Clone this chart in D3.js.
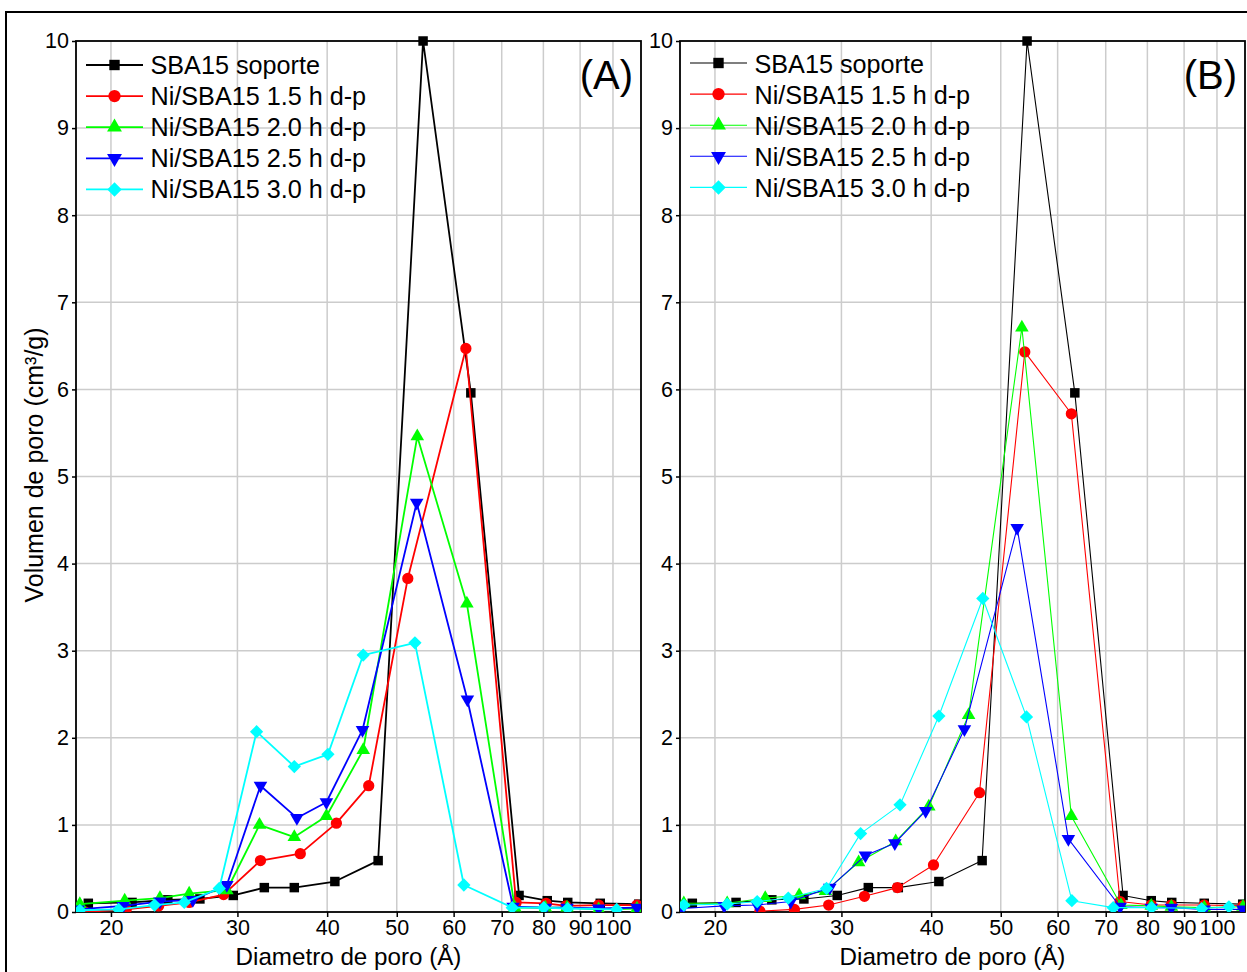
<!DOCTYPE html>
<html>
<head>
<meta charset="utf-8">
<script src="https://cdn.jsdelivr.net/npm/d3@7"></script>
<style>
  html, body { margin: 0; padding: 0; background: #fff; }
  svg { display: block; font-family: "Liberation Sans", Arial, sans-serif; }
</style>
</head>
<body>
<svg id="chart" width="1247" height="972"></svg>
<script>
// ---------------- DATA ----------------
const seriesNames = ["SBA15 soporte", "Ni/SBA15 1.5 h d-p", "Ni/SBA15 2.0 h d-p", "Ni/SBA15 2.5 h d-p", "Ni/SBA15 3.0 h d-p"];
const seriesColors = ["#000000", "#ff0000", "#00ff00", "#0000ff", "#00ffff"];
const xTickValues = [20, 30, 40, 50, 60, 70, 80, 90, 100];
const yTickValues = [0, 1, 2, 3, 4, 5, 6, 7, 8, 9, 10];
const xDomain = [17.88, 109.4];
const yDomain = [0, 10];

// SBA15 soporte (same in both panels)
const xSoporte = [18.6, 21.4, 24.0, 26.6, 29.6, 32.7, 36.0, 41.0, 47.1, 54.4, 63.4, 74.0, 81.0, 86.5, 96.0, 108.6];
const ySoporte = [0.10, 0.11, 0.14, 0.15, 0.19, 0.28, 0.28, 0.35, 0.59, 10.0, 5.96, 0.19, 0.13, 0.11, 0.10, 0.09];

// Panel A
const xA15 = [18.4, 21.0, 23.3, 25.7, 28.7, 32.3, 36.7, 41.2, 45.7, 51.8, 62.4, 73.3, 80.7, 86.0, 95.5, 108.0];
const yA15 = [0.00, 0.03, 0.07, 0.11, 0.20, 0.59, 0.67, 1.02, 1.45, 3.83, 6.47, 0.11, 0.10, 0.07, 0.08, 0.08];
const xA20 = [18.1, 20.9, 23.4, 25.7, 29.0, 32.2, 36.0, 39.9, 44.9, 53.4, 62.6, 73.0, 80.5, 86.3, 95.5, 108.0];
const yA20 = [0.09, 0.13, 0.16, 0.21, 0.25, 1.00, 0.86, 1.10, 1.86, 5.46, 3.54, 0.05, 0.05, 0.05, 0.03, 0.04];
const xA25 = [18.0, 20.8, 23.4, 26.0, 29.0, 32.3, 36.3, 39.9, 44.8, 53.3, 62.7, 72.6, 80.5, 86.3, 95.5, 108.0];
const yA25 = [0.03, 0.07, 0.12, 0.14, 0.31, 1.45, 1.08, 1.26, 2.09, 4.70, 2.44, 0.06, 0.05, 0.05, 0.04, 0.05];
const xA30 = [18.1, 20.5, 23.0, 25.3, 28.3, 31.9, 36.0, 40.1, 44.9, 53.0, 62.0, 72.4, 80.1, 86.5, 101.2];
const yA30 = [0.02, 0.03, 0.08, 0.11, 0.27, 2.07, 1.67, 1.81, 2.95, 3.09, 0.31, 0.05, 0.05, 0.04, 0.03];

// Panel B
const xB15 = [23.1, 25.8, 28.8, 32.3, 35.9, 40.3, 46.7, 54.0, 62.7, 73.3, 81.0, 86.4, 96.0, 108.7];
const yB15 = [0.01, 0.03, 0.08, 0.18, 0.28, 0.54, 1.37, 6.43, 5.72, 0.12, 0.08, 0.08, 0.08, 0.07];
const xB20 = [18.1, 20.8, 23.5, 26.2, 28.5, 31.7, 35.7, 39.7, 45.1, 53.5, 62.7, 73.5, 81.0, 86.4, 96.0, 108.7];
const yB20 = [0.10, 0.10, 0.16, 0.19, 0.24, 0.57, 0.81, 1.21, 2.26, 6.71, 1.10, 0.08, 0.07, 0.06, 0.05, 0.06];
const xB25 = [18.0, 20.6, 22.9, 25.5, 28.9, 32.4, 35.6, 39.3, 44.5, 52.7, 62.1, 73.3, 81.0, 86.4, 96.0, 108.7];
const yB25 = [0.04, 0.07, 0.08, 0.12, 0.28, 0.65, 0.79, 1.16, 2.10, 4.41, 0.84, 0.06, 0.05, 0.05, 0.03, 0.03];
const xB30 = [18.1, 20.8, 22.9, 25.3, 28.6, 31.9, 36.2, 41.0, 47.2, 54.3, 62.8, 71.7, 81.1, 95.2, 103.9];
const yB30 = [0.08, 0.09, 0.12, 0.16, 0.27, 0.90, 1.23, 2.25, 3.60, 2.24, 0.13, 0.05, 0.05, 0.04, 0.06];

const panelLabels = ["(A)", "(B)"];
const xTitle = "Diametro de poro (Å)";
const yTitle = "Volumen de poro (cm³/g)";

// ---------------- DRAW ----------------
const svg = d3.select("#chart");

// outer frame
svg.append("rect").attr("x", 6).attr("y", 12).attr("width", 1300).attr("height", 1100)
  .attr("fill", "none").attr("stroke", "#000").attr("stroke-width", 2);

const zip = (xs, ys) => xs.map((x, i) => ({x: x, y: ys[i]}));

const panels = [
  {left: 76, right: 641, top: 41, bottom: 912, lw: 1.8, legendX: 86, legendY: 65, legendBase: 74,
   data: [zip(xSoporte, ySoporte), zip(xA15, yA15), zip(xA20, yA20), zip(xA25, yA25), zip(xA30, yA30)]},
  {left: 680, right: 1245, top: 41, bottom: 912, lw: 1.1, legendX: 690, legendY: 63, legendBase: 72.5,
   data: [zip(xSoporte, ySoporte), zip(xB15, yB15), zip(xB20, yB20), zip(xB25, yB25), zip(xB30, yB30)]}
];

const symbolDefs = [
  {type: d3.symbolSquare, size: 90, rot: 0},
  {type: d3.symbolCircle, size: 100, rot: 0},
  {type: d3.symbolTriangle, size: 80, rot: 0},
  {type: d3.symbolTriangle, size: 80, rot: 180},
  {type: d3.symbolSquare, size: 88, rot: 45}
];

panels.forEach((p, pi) => {
  const x = d3.scaleLog().domain(xDomain).range([p.left, p.right]);
  const y = d3.scaleLinear().domain(yDomain).range([p.bottom, p.top]);
  const g = svg.append("g");

  const clipId = "clip" + pi;
  svg.append("clipPath").attr("id", clipId).append("rect")
    .attr("x", p.left).attr("y", p.top - 8).attr("width", p.right - p.left).attr("height", p.bottom - p.top + 8);

  // grid
  g.append("g").selectAll("line").data(xTickValues).join("line")
    .attr("x1", d => x(d)).attr("x2", d => x(d)).attr("y1", p.top).attr("y2", p.bottom)
    .attr("stroke", "#cccccc").attr("stroke-width", 1.5);
  g.append("g").selectAll("line").data(yTickValues.slice(1, -1)).join("line")
    .attr("x1", p.left).attr("x2", p.right).attr("y1", d => y(d)).attr("y2", d => y(d))
    .attr("stroke", "#cccccc").attr("stroke-width", 1.5);

  // axes
  const xAxis = d3.axisBottom(x).tickValues(xTickValues).tickFormat(d3.format("d")).tickSize(5).tickPadding(3);
  const gx = g.append("g").attr("transform", `translate(0,${p.bottom})`).call(xAxis);
  gx.select(".domain").remove();
  gx.selectAll("text").attr("font-size", 21.5).attr("font-family", "Liberation Sans, Arial, sans-serif").attr("fill", "#000");
  gx.selectAll("line").attr("stroke", "#000").attr("stroke-width", 1.5);

  const yAxis = d3.axisLeft(y).tickValues(yTickValues).tickFormat(d3.format("d")).tickSize(4).tickPadding(3);
  const gy = g.append("g").attr("transform", `translate(${p.left},0)`).call(yAxis);
  gy.select(".domain").remove();
  gy.selectAll("text").attr("font-size", 21.5).attr("font-family", "Liberation Sans, Arial, sans-serif").attr("fill", "#000");
  gy.selectAll("line").attr("stroke", "#000").attr("stroke-width", 1.5);

  // frame
  g.append("rect").attr("x", p.left).attr("y", p.top).attr("width", p.right - p.left).attr("height", p.bottom - p.top)
    .attr("fill", "none").attr("stroke", "#000").attr("stroke-width", 1.8);

  // series
  const line = d3.line().x(d => x(d.x)).y(d => y(d.y));
  const plot = g.append("g").attr("clip-path", `url(#${clipId})`);
  p.data.forEach((series, si) => {
    plot.append("path").datum(series).attr("d", line).attr("fill", "none")
      .attr("stroke", seriesColors[si]).attr("stroke-width", p.lw).attr("stroke-linejoin", "round");
    const sd = symbolDefs[si];
    plot.append("g").selectAll("path").data(series).join("path")
      .attr("d", d3.symbol().type(sd.type).size(sd.size))
      .attr("transform", d => `translate(${x(d.x)},${y(d.y)}) rotate(${sd.rot})`)
      .attr("fill", seriesColors[si]);
  });

  // legend
  const rowH = 31.1;
  seriesNames.forEach((name, si) => {
    const cy = p.legendY + si * rowH;
    g.append("line").attr("x1", p.legendX).attr("x2", p.legendX + 57).attr("y1", cy).attr("y2", cy)
      .attr("stroke", seriesColors[si]).attr("stroke-width", p.lw);
    const sd = symbolDefs[si];
    g.append("path").attr("d", d3.symbol().type(sd.type).size(sd.size * 1.2)())
      .attr("transform", `translate(${p.legendX + 28.5},${cy}) rotate(${sd.rot})`)
      .attr("fill", seriesColors[si]);
    g.append("text").attr("x", p.legendX + 64.5).attr("y", p.legendBase + si * rowH)
      .attr("font-size", 25.2).attr("fill", "#000").text(name);
  });

  // panel label
  g.append("text").attr("x", p.right - 8).attr("y", 89).attr("text-anchor", "end")
    .attr("font-size", 40).attr("fill", "#000").text(panelLabels[pi]);

  // x title
  g.append("text").attr("x", (p.left + p.right) / 2 - 10).attr("y", 965).attr("text-anchor", "middle")
    .attr("font-size", 24.2).attr("fill", "#000").text(xTitle);
});

// y title (panel A only)
svg.append("text").attr("transform", "translate(43,465) rotate(-90)").attr("text-anchor", "middle")
  .attr("font-size", 25).attr("fill", "#000").text(yTitle);
</script>
</body>
</html>
